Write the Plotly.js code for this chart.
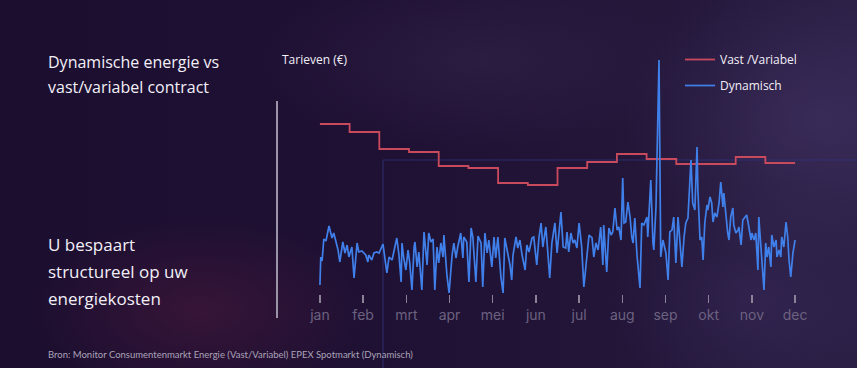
<!DOCTYPE html>
<html>
<head>
<meta charset="utf-8">
<script src="https://cdn.plot.ly/plotly-3.0.1.min.js"></script>
<style>
html,body{margin:0;padding:0;width:857px;height:368px;overflow:hidden;}
body{
 background:
  radial-gradient(ellipse 240px 130px at 200px 310px, rgba(75,25,60,0.55), rgba(75,25,60,0) 70%),
  radial-gradient(ellipse 260px 200px at 820px 120px, rgba(70,55,105,0.55), rgba(70,55,105,0) 75%),
  radial-gradient(ellipse 300px 120px at 480px 60px, rgba(55,40,80,0.45), rgba(55,40,80,0) 75%),
  radial-gradient(ellipse 200px 160px at 760px 300px, rgba(60,45,95,0.45), rgba(60,45,95,0) 75%),
  linear-gradient(90deg, #1c0e2f 0%, #1f1134 45%, #231639 75%, #2a1e44 100%);
}
#chart{width:857px;height:368px;}
</style>
</head>
<body>
<div id="chart"></div>
<script>
// ---- data ----
const maanden = ["jan","feb","mrt","apr","mei","jun","jul","aug","sep","okt","nov","dec"];
const maandPos = [0,1,2,3,4,5,6,7,8,9,10,11];

// Vast/Variabel tariff (step), position in months
const vastT = [0,0.6875,1.375,2.0625,2.75,3.4375,4.125,4.8125,5.5,6.1875,6.875,7.5625,8.25,8.9375,9.625,10.3125,11];
const vastV = [0.372,0.356,0.322,0.316,0.288,0.284,0.254,0.250,0.284,0.296,0.312,0.302,0.292,0.292,0.306,0.294,0.294];

// Dynamisch (EPEX spot), position in months
const dynT = [0.00,0.02,0.05,0.09,0.14,0.21,0.28,0.32,0.42,0.46,0.53,0.58,0.63,0.67,0.74,0.79,0.86,0.90,0.97,1.02,
1.06,1.11,1.13,1.20,1.25,1.32,1.37,1.46,1.50,1.55,1.60,1.67,1.71,1.78,1.83,1.88,1.90,1.94,1.99,2.04,
2.08,2.13,2.18,2.20,2.25,2.29,2.36,2.41,2.48,2.52,2.57,2.62,2.66,2.71,2.75,2.80,2.85,2.87,2.94,2.99,
3.06,3.10,3.15,3.19,3.26,3.31,3.33,3.40,3.45,3.50,3.54,3.61,3.66,3.73,3.77,3.82,3.87,3.91,3.98,4.03,
4.07,4.12,4.19,4.24,4.28,4.33,4.40,4.44,4.47,4.54,4.58,4.63,4.68,4.75,4.79,4.84,4.91,4.95,5.02,5.07,
5.12,5.16,5.23,5.28,5.32,5.37,5.44,5.49,5.53,5.58,5.63,5.69,5.72,5.76,5.81,5.86,5.90,5.95,6.00,6.06,
6.11,6.16,6.23,6.30,6.34,6.39,6.44,6.50,6.55,6.57,6.64,6.69,6.74,6.78,6.83,6.88,6.92,6.97,7.01,7.04,
7.08,7.13,7.18,7.22,7.25,7.29,7.34,7.41,7.45,7.50,7.57,7.59,7.66,7.71,7.73,7.78,7.85,7.89,7.94,8.01,
8.06,8.10,8.15,8.19,8.24,8.29,8.33,8.38,8.43,8.47,8.52,8.59,8.63,8.68,8.73,8.75,8.80,8.84,8.87,8.91,
8.96,8.98,9.03,9.07,9.10,9.14,9.19,9.24,9.28,9.33,9.35,9.40,9.44,9.47,9.51,9.56,9.58,9.63,9.68,9.70,
9.75,9.79,9.84,9.88,9.93,9.98,10.00,10.05,10.09,10.14,10.16,10.21,10.23,10.28,10.32,10.35,10.39,10.44,10.46,10.51,
10.56,10.58,10.63,10.67,10.69,10.74,10.79,10.83,10.86,10.90,10.95,11.00];
const dynV = [0.050,0.106,0.098,0.142,0.138,0.168,0.144,0.154,0.120,0.096,0.136,0.114,0.130,0.106,0.126,0.064,0.134,0.116,0.118,0.114,
0.110,0.096,0.110,0.100,0.114,0.116,0.114,0.132,0.104,0.074,0.106,0.100,0.116,0.144,0.110,0.056,0.134,0.104,0.080,0.120,
0.094,0.040,0.126,0.136,0.086,0.116,0.040,0.156,0.090,0.154,0.136,0.142,0.040,0.126,0.094,0.134,0.106,0.150,0.070,0.034,
0.110,0.134,0.104,0.126,0.154,0.104,0.146,0.136,0.056,0.164,0.146,0.056,0.148,0.134,0.046,0.154,0.114,0.140,0.086,0.146,
0.104,0.146,0.066,0.034,0.144,0.124,0.090,0.060,0.110,0.146,0.124,0.140,0.110,0.080,0.130,0.116,0.144,0.146,0.090,0.144,
0.174,0.126,0.166,0.110,0.064,0.134,0.174,0.114,0.150,0.196,0.126,0.124,0.156,0.116,0.154,0.134,0.140,0.124,0.174,0.126,
0.046,0.096,0.150,0.144,0.106,0.134,0.120,0.166,0.090,0.170,0.076,0.164,0.150,0.156,0.204,0.160,0.166,0.140,0.264,0.174,
0.176,0.216,0.186,0.146,0.134,0.184,0.110,0.044,0.174,0.170,0.186,0.146,0.260,0.134,0.120,0.206,0.500,0.106,0.140,0.114,
0.060,0.156,0.160,0.186,0.094,0.186,0.140,0.086,0.146,0.174,0.184,0.300,0.214,0.200,0.326,0.240,0.140,0.146,0.100,0.174,
0.210,0.200,0.226,0.214,0.176,0.194,0.186,0.214,0.256,0.206,0.234,0.180,0.154,0.140,0.186,0.204,0.170,0.154,0.160,0.166,
0.130,0.180,0.186,0.190,0.166,0.140,0.154,0.140,0.154,0.080,0.186,0.126,0.106,0.040,0.134,0.106,0.126,0.086,0.150,0.126,
0.140,0.106,0.120,0.106,0.146,0.126,0.176,0.146,0.100,0.066,0.114,0.140];

const titelRegels = ["Dynamische energie vs","vast/variabel contract"];
const boodschapRegels = ["U bespaart","structureel op uw","energiekosten"];

// ---- layout helpers (pixel -> paper) ----
const W = 857, H = 368;
const M = {l:294, r:36, t:50, b:74};
const PW = W - M.l - M.r, PH = H - M.t - M.b;
const px = x => (x - M.l) / PW;
const py = y => (H - M.b - y) / PH;

const txt = "#f2eff7";
const font = "Open Sans, sans-serif";

const traces = [
 {x: vastT, y: vastV, type:"scatter", mode:"lines", name:"Vast /Variabel",
  line:{color:"#c84a5c", width:1.8, shape:"hv"}, legendgroup:"a", hoverinfo:"skip"},
 {x: dynT, y: dynV, type:"scatter", mode:"lines", name:"Dynamisch",
  line:{color:"#4080ea", width:1.7}, legendgroup:"b", hoverinfo:"skip"}
];

const annotations = [];
titelRegels.forEach((t,i) => annotations.push({xref:"paper", yref:"paper", x:px(46), y:py(62 + i*25),
  xanchor:"left", yanchor:"middle", align:"left", showarrow:false, text:t, font:{family:font, size:16, color:txt}}));
boodschapRegels.forEach((t,i) => annotations.push({xref:"paper", yref:"paper", x:px(46), y:py(244 + i*27),
  xanchor:"left", yanchor:"middle", align:"left", showarrow:false, text:t, font:{family:font, size:17, color:txt}}));
annotations.push({xref:"paper", yref:"paper", x:px(280), y:py(59), xanchor:"left", yanchor:"middle", align:"left", showarrow:false,
   text:"Tarieven (€)", font:{family:font, size:12, color:txt}});
annotations.push({xref:"paper", yref:"paper", x:px(46), y:py(354), xanchor:"left", yanchor:"middle", align:"left", showarrow:false,
   text:"Bron: Monitor Consumentenmarkt Energie (Vast/Variabel) EPEX Spotmarkt (Dynamisch)",
   font:{family:"Lato, sans-serif", size:9.5, color:"#aaa3b8"}});

const layout = {
 width:W, height:H,
 margin:M,
 paper_bgcolor:"rgba(0,0,0,0)", plot_bgcolor:"rgba(0,0,0,0)",
 font:{family:font, color:txt},
 showlegend:true,
 legend:{x:px(680), y:py(45), xanchor:"left", yanchor:"top", bgcolor:"rgba(0,0,0,0)",
   font:{family:font, size:12, color:txt}, tracegroupgap:7, itemwidth:30},
 xaxis:{range:[-0.6,11.6], tickvals:maandPos, ticktext:maanden, showgrid:false, zeroline:false,
   showline:false, ticks:"outside", ticklen:8, tickwidth:1.5, tickcolor:"#8b8298",
   tickfont:{family:"Inter, sans-serif", size:14, color:"#6c6280"}, fixedrange:true},
 yaxis:{range:[0.032,0.52], showgrid:false, zeroline:false, showline:false, showticklabels:false,
   ticks:"", fixedrange:true},
 shapes:[
  {type:"line", xref:"paper", yref:"paper", x0:px(277), x1:px(277), y0:py(101), y1:py(318),
   line:{color:"#9b93a8", width:2}, layer:"below"},
  {type:"line", xref:"paper", yref:"paper", x0:px(383), x1:px(860), y0:py(160), y1:py(160),
   line:{color:"rgba(45,50,120,0.8)", width:1.2}, layer:"below"},
  {type:"line", xref:"paper", yref:"paper", x0:px(383), x1:px(383), y0:py(160), y1:py(370),
   line:{color:"rgba(45,50,120,0.8)", width:1.2}, layer:"below"}
 ],
 annotations: annotations
};

Plotly.newPlot("chart", traces, layout, {staticPlot:true, displayModeBar:false});
</script>
</body>
</html>
